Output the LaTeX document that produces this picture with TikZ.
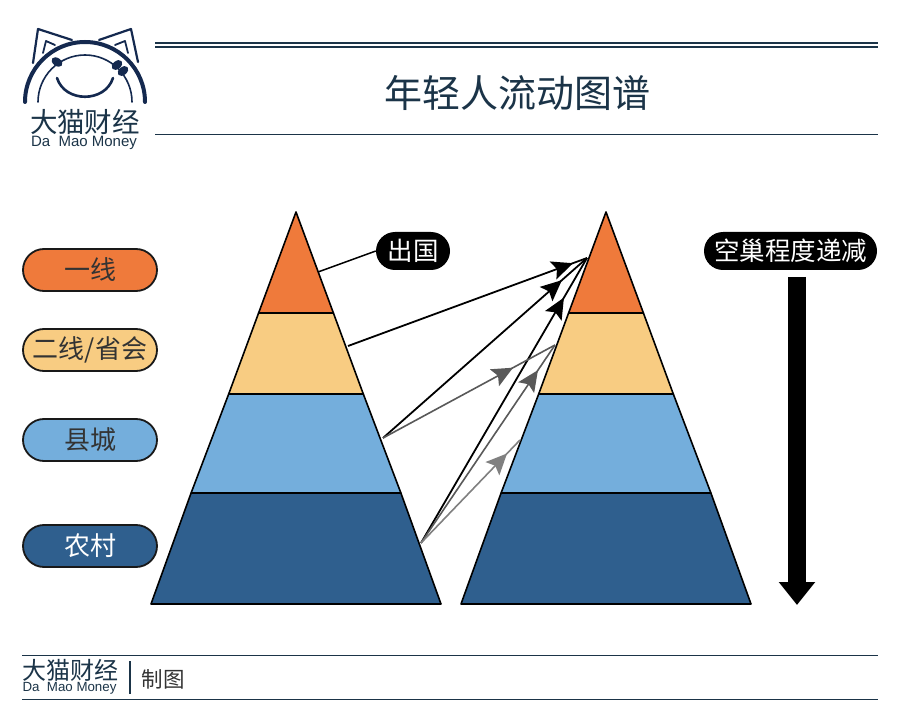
\documentclass[tikz,border=0pt]{standalone}
\usepackage{fontspec}
\setmainfont{Noto Sans CJK SC}
\newfontfamily\latinf{Liberation Sans}
\usetikzlibrary{arrows.meta,decorations.markings,shapes.misc}
\definecolor{navy}{HTML}{14294F}
\definecolor{ink}{HTML}{1B3448}
\definecolor{corange}{HTML}{EF7A3B}
\definecolor{cpeach}{HTML}{F8CC82}
\definecolor{csky}{HTML}{74AEDC}
\definecolor{cdeep}{HTML}{2F5F8E}
\newcommand{\pyramid}[1]{%
  \begin{scope}[xshift=#1pt,line width=1.6pt,draw=black,line join=round]
    \filldraw[fill=cdeep] (191.1,493) -- (400.9,493) -- (441,604) -- (151,604) -- cycle;
    \filldraw[fill=csky] (228.7,394) -- (363.3,394) -- (400.9,493) -- (191.1,493) -- cycle;
    \filldraw[fill=cpeach] (258.6,313) -- (333.4,313) -- (363.3,394) -- (228.7,394) -- cycle;
    \filldraw[fill=corange] (296,212) -- (333.4,313) -- (258.6,313) -- cycle;
  \end{scope}}
\tikzset{
  legendpill/.style={rounded rectangle,draw=black!90,line width=1.8pt,minimum width=134pt,minimum height=42pt,inner sep=0pt,font=\fontsize{26}{26}\selectfont,text=black!80},
  blackpill/.style={rounded rectangle,fill=black,text=white,minimum height=38pt,inner sep=0pt,font=\fontsize{25.5}{25.5}\selectfont},
  flow/.style n args={3}{line width=#1,draw=#2,postaction={decorate},decoration={markings,mark=at position #3 with {\arrow[#2]{Stealth[length=21pt,width=19pt,inset=4pt]}}}},
  rule/.style={draw=ink,line width=1pt},
  logoline/.style={draw=navy,line cap=round,line join=round},
}
\begin{document}
\begin{tikzpicture}[x=1pt,y=-1pt]
\useasboundingbox[fill=white] (0,0) rectangle (900,722);
% header
\coordinate (h1a) at (155,43); \coordinate (h1b) at (878,43);
\coordinate (h2a) at (155,47); \coordinate (h2b) at (878,47);
\coordinate (h3a) at (155,135); \coordinate (h3b) at (878,135);
\draw[rule,line width=1.8pt] (h1a) -- (h1b);
\draw[rule,line width=1.8pt] (h2a) -- (h2b);
\draw[rule] (h3a) -- (h3b);
\node[text=ink,font=\fontsize{38}{38}\selectfont,inner sep=0pt] (title) at (517,93) {年轻人流动图谱};
% logo
\draw[logoline,line width=2.2pt] (33,63) -- (38,29) -- (72,40);
\draw[logoline,line width=1.8pt] (43,53) -- (46,41) -- (55,45);
\draw[logoline,line width=2.2pt] (99,40) -- (131,29) -- (138,62);
\draw[logoline,line width=1.8pt] (115,45) -- (125,41) -- (128,53);
\draw[logoline,line width=4pt] (25,102) arc[start angle=180,end angle=0,radius=60pt];
\draw[logoline,line width=1.6pt] (38,102) arc[start angle=180,end angle=0,radius=47pt];
\fill[navy] (57,62) ellipse[x radius=6pt,y radius=4pt,rotate=-35];
\fill[navy] (117,65) ellipse[x radius=6pt,y radius=4pt,rotate=40];
\fill[navy] (123,71) ellipse[x radius=6pt,y radius=4pt,rotate=40];
\draw[logoline,line width=2.6pt] (57,78) .. controls (65,103) and (105,103) .. (113,78);
\node[text=ink,font=\fontsize{27.5}{27.5}\selectfont,inner sep=0pt] (logocn) at (85,122) {大猫财经};
\node[text=ink,font=\latinf\fontsize{15}{15}\selectfont,inner sep=0pt] (logoen) at (84,143) {Da\ \ Mao Money};
% pyramids
\pyramid{0}
\pyramid{310}
% legend
\node[legendpill,fill=corange] (l1) at (90,270) {一线};
\node[legendpill,fill=cpeach] (l2) at (90,350) {二线/省会};
\node[legendpill,fill=csky] (l3) at (90,440) {县城};
\node[legendpill,fill=cdeep,text=white] (l4) at (90,546) {农村};
% black labels
\node[blackpill,minimum width=74pt] (abroad) at (413,251) {出国};
\node[blackpill,minimum width=173pt] (empty) at (790.5,251) {空巢程度递减};
\coordinate (tier1) at (318,272);
\draw[black,line width=1.5pt] (tier1) -- (abroad.west);
% flows
\coordinate (t2) at (348,346);
\coordinate (t3) at (383,438);
\coordinate (t4) at (421,543);
\coordinate (top) at (587,258);
\coordinate (mid) at (555,345);
\coordinate (low) at (520,440);
\draw[flow={1.8pt}{black}{0.941}] (t2) -- (top);
\draw[flow={1.8pt}{black}{0.877}] (t3) -- (top);
\draw[flow={1.8pt}{black}{0.861}] (t4) -- (top);
\draw[flow={1.6pt}{black!65}{0.756}] (t3) -- (mid);
\draw[flow={1.6pt}{black!65}{0.873}] (t4) -- (mid);
\draw[flow={1.6pt}{black!50}{0.869}] (t4) -- (low);
% big arrow
\coordinate (bigS) at (797,277);
\coordinate (bigE) at (797,605);
\draw[-{Triangle[length=23pt,width=35pt]},line width=18pt,black] (bigS) -- (bigE);
% footer
\coordinate (f1a) at (22,655); \coordinate (f1b) at (878,655);
\coordinate (f2a) at (22,699); \coordinate (f2b) at (878,699);
\coordinate (fva) at (130,661); \coordinate (fvb) at (130,694);
\draw[rule] (f1a) -- (f1b);
\draw[rule] (f2a) -- (f2b);
\draw[draw=ink,line width=1.2pt] (fva) -- (fvb);
\node[text=ink,font=\fontsize{24}{24}\selectfont,inner sep=0pt] (footcn) at (70.5,670) {大猫财经};
\node[text=ink,font=\latinf\fontsize{13.3}{13.3}\selectfont,inner sep=0pt] (footen) at (69.5,688) {Da\ \ Mao Money};
\node[text=black!80,font=\fontsize{21.5}{21.5}\selectfont,inner sep=0pt] (made) at (163,679) {制图};
\end{tikzpicture}
\end{document}
